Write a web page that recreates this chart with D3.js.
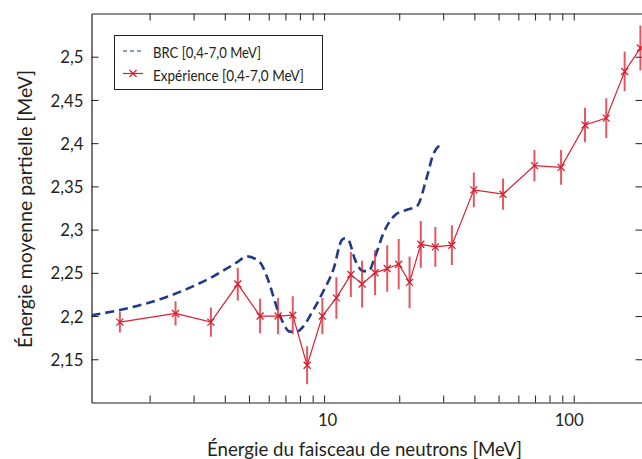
<!DOCTYPE html>
<html><head><meta charset="utf-8">
<script src="https://cdn.jsdelivr.net/npm/d3@7"></script>
<style>body{margin:0;background:#fff}svg{display:block}text{font-family:Lato,"Open Sans",sans-serif;fill:#231f20}</style>
</head><body>
<svg id="c" width="642" height="459"></svg>
<script>
// Experimental data
const expEnergy = [1.52, 2.54, 3.52, 4.51, 5.54, 6.54, 7.49, 8.55, 9.84, 11.2, 12.8, 14.2, 16.0, 17.9, 19.9, 22.0, 24.4, 27.9, 32.5, 39.8, 52.1, 69.6, 89.0, 111, 135, 160, 185];
const expValue  = [2.193, 2.203, 2.193, 2.237, 2.200, 2.200, 2.201, 2.143, 2.200, 2.221, 2.248, 2.237, 2.250, 2.255, 2.260, 2.239, 2.283, 2.280, 2.282, 2.346, 2.341, 2.374, 2.372, 2.421, 2.429, 2.483, 2.510];
const expError  = [0.012, 0.014, 0.017, 0.019, 0.020, 0.021, 0.022, 0.022, 0.021, 0.024, 0.026, 0.027, 0.026, 0.027, 0.029, 0.030, 0.027, 0.023, 0.023, 0.020, 0.018, 0.018, 0.020, 0.020, 0.023, 0.023, 0.026];
// BRC calculation
const brcEnergy = [1.17, 1.52, 2.49, 3.60, 4.47, 4.90, 5.54, 5.89, 6.66, 7.31, 7.77, 8.26, 8.93, 9.94, 10.9, 11.78, 12.14, 12.52, 13.31, 14.37, 15.05, 16.02, 17.29, 19.27, 21.47, 23.54, 25.82, 27.44, 29.66];
const brcValue  = [2.201, 2.207, 2.225, 2.246, 2.262, 2.269, 2.262, 2.246, 2.200, 2.182, 2.182, 2.188, 2.204, 2.229, 2.254, 2.288, 2.290, 2.288, 2.265, 2.252, 2.252, 2.269, 2.296, 2.317, 2.323, 2.327, 2.361, 2.388, 2.399];
const yTicks = [2.15, 2.2, 2.25, 2.3, 2.35, 2.4, 2.45, 2.5];
const xLabelTicks = [10, 100];
const legendLabels = ["BRC [0,4-7,0 MeV]", "Expérience [0,4-7,0 MeV]"];
const xTitle = "Énergie du faisceau de neutrons [MeV]";
const yTitle = "Énergie moyenne partielle [MeV]";

const L = 91.5, R = 642.5, T = 13.5, B = 402.5;
const red = "#d8202f", navy = "#1f3a8a", axisCol = "#231f20";
const svg = d3.select("#c");
const x = d3.scaleLog().domain([1.17, 188.6]).range([L, R]);
const y = d3.scaleLinear().domain([2.1, 2.55]).range([B, T]);
const fmt = d => String(d).replace(".", ",");
// horizontally condense text to a width factor (reference font is narrower)
function condense(sel, factor) {
  sel.each(function () {
    const w = this.getComputedTextLength();
    d3.select(this).attr("textLength", w * factor).attr("lengthAdjust", "spacingAndGlyphs");
  });
}

svg.append("defs").append("clipPath").attr("id", "clip")
  .append("rect").attr("x", L).attr("y", T).attr("width", R - L).attr("height", B - T);

const minorTicks = x.ticks().filter(d => d >= 1.17 && d <= 188.6);

const gB = svg.append("g").attr("transform", `translate(0,${B})`)
  .call(d3.axisBottom(x).tickValues(minorTicks).tickSizeInner(-7).tickSizeOuter(0).tickFormat(d => xLabelTicks.includes(d) ? fmt(d) : ""));
const gT = svg.append("g").attr("transform", `translate(0,${T})`)
  .call(d3.axisTop(x).tickValues(minorTicks).tickSizeInner(-7).tickSizeOuter(0).tickFormat(""));
const gL = svg.append("g").attr("transform", `translate(${L},0)`)
  .call(d3.axisLeft(y).tickValues(yTicks).tickSizeInner(-7).tickSizeOuter(0).tickFormat(fmt));
const gR = svg.append("g").attr("transform", `translate(${R},0)`)
  .call(d3.axisRight(y).tickValues(yTicks).tickSizeInner(-7).tickSizeOuter(0).tickFormat(""));
[gB, gT, gL, gR].forEach(g => {
  g.select(".domain").attr("stroke", axisCol).attr("stroke-width", 1.2);
  g.selectAll(".tick line").attr("stroke", axisCol).attr("stroke-width", 1);
  g.selectAll("text").attr("font-family", "Lato, sans-serif").attr("font-size", 18).attr("fill", axisCol);
});
gB.selectAll("text").attr("dy", 0).attr("y", 23)
  .attr("dx", d => d === 100 ? -5 : (d === 10 ? 3 : 0));
gL.selectAll("text").attr("x", -8).attr("dy", "0.34em");
condense(gB.selectAll("text"), 0.93);
condense(gL.selectAll("text"), 0.93);

// titles
const xt = svg.append("text").attr("x", 364.5).attr("y", 456).attr("text-anchor", "middle")
  .attr("font-size", 19).text(xTitle);
xt.attr("textLength", 315).attr("lengthAdjust", "spacingAndGlyphs");
const yt = svg.append("text").attr("transform", `translate(32,209) rotate(-90)`).attr("text-anchor", "middle")
  .attr("font-size", 19).text(yTitle);
yt.attr("textLength", 278).attr("lengthAdjust", "spacingAndGlyphs");

const plot = svg.append("g").attr("clip-path", "url(#clip)");

// BRC dashed line
const brc = brcEnergy.map((e, i) => [e, brcValue[i]]);
plot.append("path").datum(brc)
  .attr("d", d3.line().x(d => x(d[0])).y(d => y(d[1])).curve(d3.curveMonotoneX))
  .attr("fill", "none").attr("stroke", navy).attr("stroke-width", 2.6).attr("stroke-dasharray", "9,5");

// experiment
const exp = expEnergy.map((e, i) => ({e, v: expValue[i], err: expError[i]}));
plot.selectAll(".err").data(exp).join("line").attr("class", "err")
  .attr("x1", d => x(d.e)).attr("x2", d => x(d.e))
  .attr("y1", d => y(d.v - d.err)).attr("y2", d => y(d.v + d.err))
  .attr("stroke", red).attr("stroke-opacity", 0.75).attr("stroke-width", 2);
plot.append("path").datum(exp)
  .attr("d", d3.line().x(d => x(d.e)).y(d => y(d.v)))
  .attr("fill", "none").attr("stroke", red).attr("stroke-width", 1.2);
const s = 3.5;
plot.selectAll(".mk").data(exp).join("path").attr("class", "mk")
  .attr("d", d => { const cx = x(d.e), cy = y(d.v); return `M${cx - s},${cy - s}L${cx + s},${cy + s}M${cx - s},${cy + s}L${cx + s},${cy - s}`; })
  .attr("stroke", red).attr("stroke-width", 1.3).attr("fill", "none");

// legend
const lg = svg.append("g");
lg.append("rect").attr("x", 114.5).attr("y", 35.5).attr("width", 208).attr("height", 54)
  .attr("fill", "#fff").attr("stroke", axisCol).attr("stroke-width", 1);
const ly = [51, 73.5];
lg.append("line").attr("x1", 123).attr("x2", 143).attr("y1", ly[0]).attr("y2", ly[0])
  .attr("stroke", navy).attr("stroke-width", 1.2).attr("stroke-dasharray", "4,3");
lg.append("line").attr("x1", 123).attr("x2", 143).attr("y1", ly[1]).attr("y2", ly[1])
  .attr("stroke", red).attr("stroke-width", 1.2);
lg.append("path").attr("d", `M${133 - s},${ly[1] - s}L${133 + s},${ly[1] + s}M${133 - s},${ly[1] + s}L${133 + s},${ly[1] - s}`)
  .attr("stroke", red).attr("stroke-width", 1.2);
const legW = [108, 151];
legendLabels.forEach((t, i) => {
  lg.append("text").attr("x", 153).attr("y", ly[i] + 7).attr("font-size", 15.5)
    .attr("textLength", legW[i]).attr("lengthAdjust", "spacingAndGlyphs").text(t);
});
</script>
</body></html>
